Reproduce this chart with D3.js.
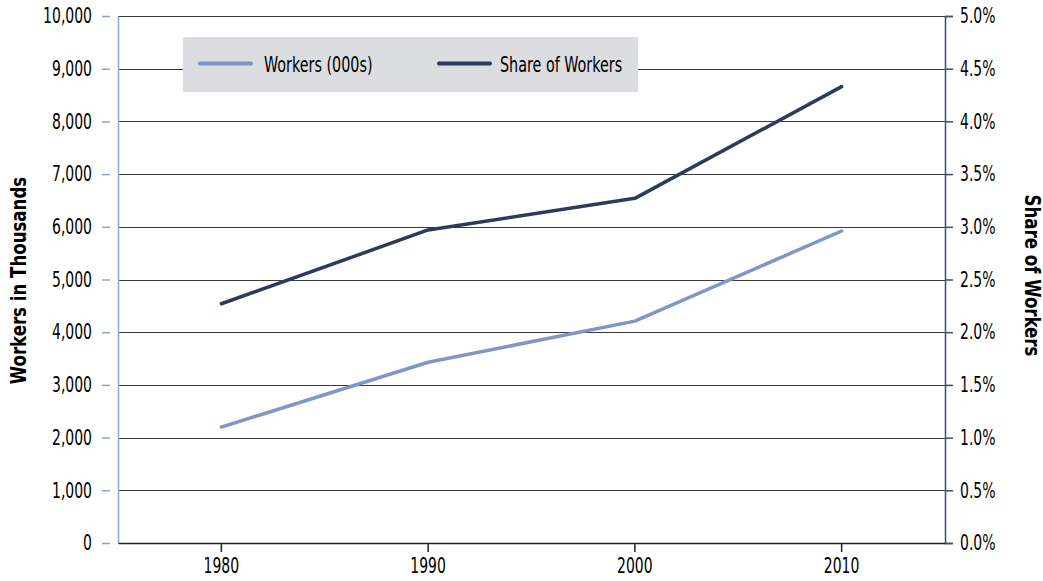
<!DOCTYPE html>
<html>
<head>
<meta charset="utf-8">
<script src="https://cdn.jsdelivr.net/npm/d3@7"></script>
<style>
  body { margin: 0; background: #fff; }
  svg text { font-family: "DejaVu Sans Condensed", "DejaVu Sans", sans-serif; fill: #000; }
</style>
</head>
<body>
<svg id="chart" width="1043" height="581"></svg>
<script>
// Census decades on the x axis
const years = ["1980", "1990", "2000", "2010"];
// Number of workers, in thousands
const workers = [2200, 3430, 4210, 5920];
// Share of all workers, in percent
const share = [2.27, 2.97, 3.27, 4.33];
// Tick values for the two y axes
const leftTicks = [0, 1000, 2000, 3000, 4000, 5000, 6000, 7000, 8000, 9000, 10000];
const rightTicks = [0, 0.5, 1, 1.5, 2, 2.5, 3, 3.5, 4, 4.5, 5];
const seriesNames = ["Workers (000s)", "Share of Workers"];

const svg = d3.select("#chart");
const m = { left: 118, right: 945, top: 16, bottom: 543 };

const x = d3.scaleBand().domain(years).range([m.left, m.right]);
const yL = d3.scaleLinear().domain([0, 10000]).range([m.bottom, m.top]);
const yR = d3.scaleLinear().domain([0, 5]).range([m.bottom, m.top]);

const lightBlue = "#7f96c9";
const navy = "#2d3a5c";

// Narrow lettering: squeeze text horizontally, keeping its anchor in place
const SX = 0.74;
function narrow(sel, sx = SX) {
  sel.each(function () {
    const t = d3.select(this);
    const x0 = +(t.attr("x") || 0);
    t.attr("x", x0 / sx).attr("transform", `scale(${sx},1)`);
  });
}

// Horizontal gridlines
svg.append("g").selectAll("line").data(leftTicks.slice(1)).join("line")
  .attr("x1", m.left).attr("x2", m.right)
  .attr("y1", d => Math.round(yL(d)) + 0.5).attr("y2", d => Math.round(yL(d)) + 0.5)
  .attr("stroke", "#3a3a3a").attr("stroke-width", 1.2);

// Left axis
const gL = svg.append("g").attr("transform", `translate(${m.left},0)`)
  .call(d3.axisLeft(yL).tickValues(leftTicks).tickFormat(d3.format(",")).tickSize(0).tickPadding(26));
gL.select(".domain").attr("stroke", "#8ea3d8").attr("stroke-width", 1.5);
gL.selectAll(".tick text").attr("font-size", 21).attr("fill", "#000").call(narrow);
gL.selectAll(".tick").append("line")
  .attr("x1", -16).attr("x2", -8).attr("stroke", "#8ea3d8").attr("stroke-width", 1.5);

// Right axis
const gR = svg.append("g").attr("transform", `translate(${m.right},0)`)
  .call(d3.axisRight(yR).tickValues(rightTicks).tickFormat(d => d.toFixed(1) + "%").tickSize(8).tickPadding(7));
gR.select(".domain").attr("stroke", "#3a4a7a").attr("stroke-width", 1.5);
gR.selectAll(".tick line").attr("stroke", "#3a4a7a").attr("stroke-width", 1.5);
gR.selectAll(".tick text").attr("font-size", 21).attr("fill", "#000").call(narrow);

// Bottom axis
const gB = svg.append("g").attr("transform", `translate(0,${m.bottom})`)
  .call(d3.axisBottom(x).tickSize(9).tickPadding(6).tickSizeOuter(0));
gB.select(".domain").attr("stroke", "#222").attr("stroke-width", 1.5);
gB.selectAll(".tick line").attr("stroke", "#222").attr("stroke-width", 1.5);
gB.selectAll(".tick text").attr("font-size", 21).attr("fill", "#000").call(narrow);

// Series lines
const cx = d => x(d) + x.bandwidth() / 2;
svg.append("path")
  .datum(years.map((d, i) => [cx(d), yL(workers[i])]))
  .attr("d", d3.line())
  .attr("fill", "none").attr("stroke", lightBlue).attr("stroke-width", 3.5)
  .attr("stroke-linecap", "round").attr("stroke-linejoin", "round");
svg.append("path")
  .datum(years.map((d, i) => [cx(d), yR(share[i])]))
  .attr("d", d3.line())
  .attr("fill", "none").attr("stroke", navy).attr("stroke-width", 3.5)
  .attr("stroke-linecap", "round").attr("stroke-linejoin", "round");

// Legend
const lg = svg.append("g");
lg.append("rect").attr("x", 183).attr("y", 37).attr("width", 455).attr("height", 55).attr("fill", "#dcdde0");
const items = [
  { name: seriesNames[0], color: lightBlue, x: 200, tx: 264 },
  { name: seriesNames[1], color: navy, x: 439, tx: 500 }
];
items.forEach(it => {
  lg.append("line").attr("x1", it.x).attr("x2", it.x + 51).attr("y1", 63.5).attr("y2", 63.5)
    .attr("stroke", it.color).attr("stroke-width", 4).attr("stroke-linecap", "round");
  lg.append("text").attr("x", it.tx).attr("y", 65).attr("dy", "0.35em")
    .attr("font-size", 21).text(it.name).call(narrow, 0.76);
});

// Axis titles
svg.append("text")
  .attr("transform", `translate(26,${(m.top + m.bottom) / 2 + 1}) rotate(-90) scale(0.88,1)`)
  .attr("text-anchor", "middle").attr("font-size", 21).attr("font-weight", "bold")
  .text("Workers in Thousands");
svg.append("text")
  .attr("transform", `translate(1025,${(m.top + m.bottom) / 2 - 4}) rotate(90) scale(0.88,1)`)
  .attr("text-anchor", "middle").attr("font-size", 21).attr("font-weight", "bold")
  .text("Share of Workers");
</script>
</body>
</html>
